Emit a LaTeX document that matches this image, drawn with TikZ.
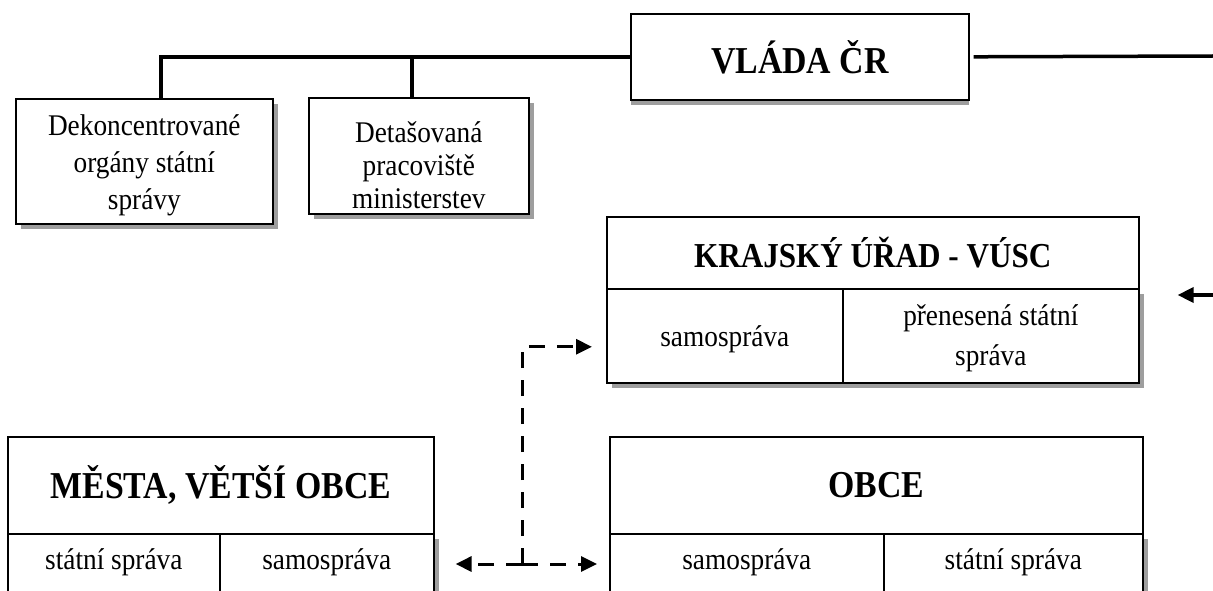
\documentclass[tikz,border=0pt]{standalone}
\usepackage{fontspec}
\setmainfont{Liberation Serif}[FakeStretch=0.91]
\newfontfamily\headfamily{Liberation Serif}[FakeStretch=0.89]
\usetikzlibrary{arrows.meta}
\definecolor{shadowgray}{gray}{0.62}
\newcommand\plaintext{\fontsize{30}{38}\selectfont}
\newcommand\headtext{\headfamily\fontsize{38}{44}\selectfont\bfseries}
\tikzset{
  cell/.style={draw=black, line width=1.6pt, fill=white, inner sep=0pt,
    align=center, anchor=north west, font=\plaintext},
  celltext/.style={inner sep=0pt, align=center, font=\plaintext},
  shadowed/.style={preaction={fill=shadowgray, draw=none,
    transform canvas={shift={(5pt,-5pt)}}}},
  bottomshadow/.style={preaction={fill=shadowgray, draw=none,
    transform canvas={shift={(0pt,-5pt)}}}},
  head/.style={font=\headtext},
  lowrow/.style={text height=20pt, text depth=28pt},
  trunk/.style={line width=3.5pt},
  dashline/.style={line width=3pt, dash pattern=on 16pt off 12pt},
  tip/.style={-{Triangle[length=16pt,width=15pt]}},
}
\begin{document}
\begin{tikzpicture}[x=1pt, y=-1pt]
\useasboundingbox (0,0) rectangle (1213,591);
\clip (0,0) rectangle (1213,591);

% government and its offices
\node[cell, head, bottomshadow, minimum width=338pt, minimum height=86pt] (vlada) at (630,13) {VLÁDA ČR};
\node[cell, shadowed, minimum width=257pt, minimum height=125pt] (dek) at (15,98) {};
\node[celltext, font=\fontsize{30}{37}\selectfont] (dekT) at ([yshift=-4pt]dek.center)
  {Dekoncentrované\\orgány státní\\správy};
\node[cell, shadowed, minimum width=220pt, minimum height=116pt] (det) at (308,97) {};
\node[celltext, font=\fontsize{30}{33}\selectfont] (detT) at ([yshift=-9pt]det.center)
  {Detašovaná\\pracoviště\\ministerstev};

\draw[trunk] (vlada.west) -| ([xshift=16.5pt]dek.north);
\draw[trunk] ([xshift=-7pt]det.north) -- ([xshift=-7pt]det.north |- vlada.west);
\coordinate (rend) at (1213,56);
\draw[trunk] ([xshift=4pt]vlada.east) -- (rend);

% region
\node[cell, font=\headfamily\fontsize{35}{40}\selectfont\bfseries, minimum width=532pt, minimum height=72pt] (kraj) at (606,216) {KRAJSKÝ ÚŘAD - VÚSC};
\node[cell, shadowed, minimum width=236pt, minimum height=94pt] (krajS) at (606,288) {};
\node[celltext] (krajST) at ([yshift=-3pt]krajS.center) {samospráva};
\node[cell, shadowed, minimum width=296pt, minimum height=94pt] (krajP) at (842,288) {};
\node[celltext, font=\fontsize{30}{40}\selectfont] (krajPT) at ([yshift=-2pt]krajP.center) {přenesená státní\\správa};

\coordinate (rin) at (1213,295);
\draw[trunk, tip] (rin) -- ([xshift=38pt]krajP.east |- rin);

% towns
\node[cell, head, minimum width=426pt, minimum height=97pt] (mesta) at (7,436) {MĚSTA, VĚTŠÍ OBCE};
\node[cell, shadowed, lowrow, minimum width=212pt, minimum height=80pt] (mestaS) at (7,533) {státní správa};
\node[cell, shadowed, lowrow, minimum width=214pt, minimum height=80pt] (mestaM) at (219,533) {samospráva};

% municipalities
\node[cell, head, minimum width=533pt, minimum height=97pt] (obce) at (609,436) {OBCE};
\node[cell, shadowed, lowrow, minimum width=274pt, minimum height=80pt] (obceS) at (609,533) {samospráva};
\node[cell, shadowed, lowrow, minimum width=259pt, minimum height=80pt] (obceP) at (883,533) {státní správa};

% cooperation links
\coordinate (j) at (522,564);
\coordinate (kk) at ([xshift=-14pt, yshift=-11pt]krajS.west);
\draw[dashline, tip] (j) -- ([xshift=21pt]mestaM.east |- j);
\draw[dashline, tip] (j) -- ([xshift=-12pt]obceS.west |- j);
\draw[dashline, tip] (j) -- (j |- kk) -- (kk);
\end{tikzpicture}
\end{document}
